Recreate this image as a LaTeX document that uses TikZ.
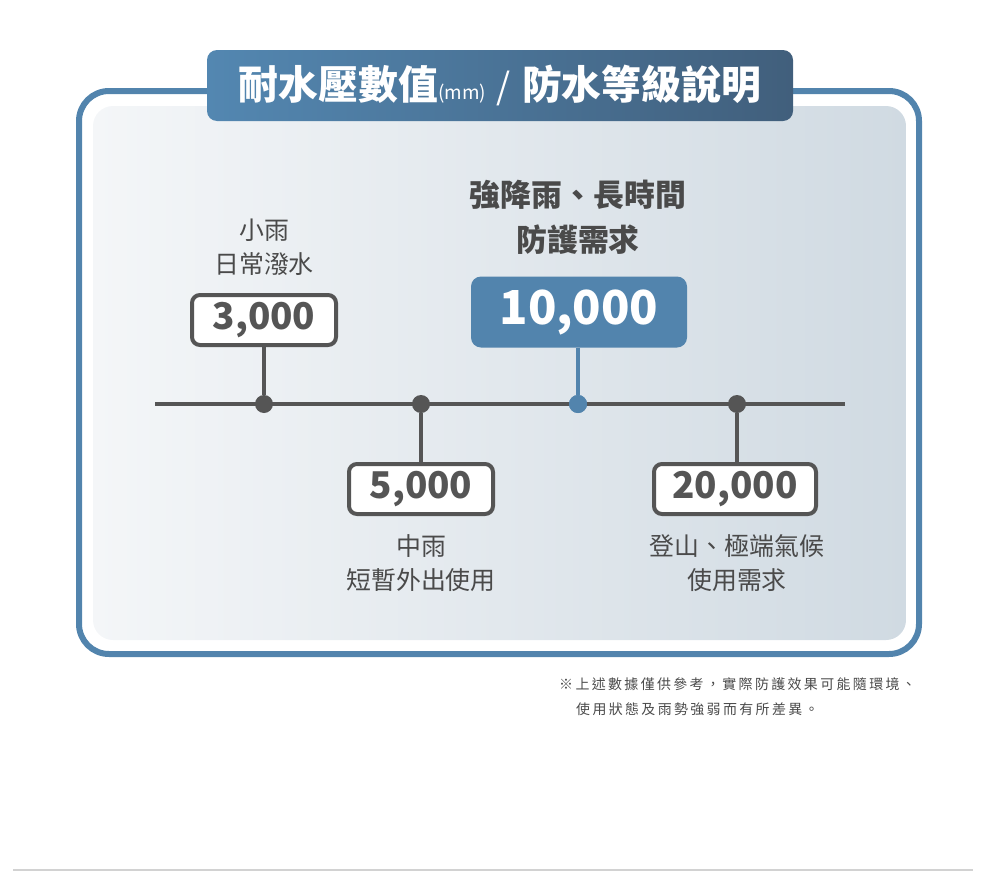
\documentclass[tikz,border=0pt]{standalone}
\usepackage{fontspec}
\setmainfont{Noto Sans CJK TC}
\definecolor{frameblue}{HTML}{5284AD}
\definecolor{bannerL}{HTML}{5387B1}
\definecolor{bannerR}{HTML}{415F7C}
\definecolor{panelL}{HTML}{F4F6F8}
\definecolor{panelR}{HTML}{D0DAE2}
\definecolor{inkgray}{HTML}{555555}
\definecolor{textgray}{HTML}{4A4A4A}
\tikzset{
  valbox/.style={draw=inkgray, line width=4bp, fill=white, rounded corners=8bp,
    minimum height=50bp, inner sep=0pt, text=inkgray,
    font=\fontsize{37}{40}\selectfont\bfseries},
  keybox/.style={fill=frameblue, rounded corners=10bp, minimum width=216bp,
    minimum height=71bp, inner sep=0pt, text=white,
    font=\fontsize{47}{50}\selectfont\bfseries},
  tdot/.style={circle, fill=inkgray, minimum size=18bp, inner sep=0pt},
  note/.style={align=center, text=textgray, font=\fontsize{25}{34}\selectfont},
}
\begin{document}
\begin{tikzpicture}[x=1bp,y=-1bp]
    \useasboundingbox (0,0) rectangle (1000,871);
    % Vẽ khung ngoài
    \draw[frameblue, line width=6bp, rounded corners=30bp] (79,91) rectangle (919,654);
    % Vẽ nền bên trong
    \shade[rounded corners=20bp, left color=panelL, right color=panelR] (93,106) rectangle (906,640);
    % Vẽ tiêu đề
    \shade[rounded corners=10bp, left color=bannerL, right color=bannerR] (207,50) rectangle (793,121);
    \node[text=white, inner sep=0pt] (title) at (500,85)
      {{\fontsize{40}{42}\selectfont\bfseries 耐水壓數值}{\fontsize{19}{20}\selectfont (mm)}\hspace{11bp}{\fontsize{36}{40}\selectfont /}\hspace{11bp}{\fontsize{40}{42}\selectfont\bfseries 防水等級說明}};

    % Vẽ trục thời gian
    \coordinate (axL) at (155,404);
    \coordinate (axR) at (845,404);
    \draw[inkgray, line width=4bp] (axL) -- (axR);
    \node[tdot] (d3) at (264,404) {};
    \node[tdot] (d5) at (421,404) {};
    \node[tdot, fill=frameblue] (d10) at (578,404) {};
    \node[tdot] (d20) at (737,404) {};

    % Đặt các hộp giá trị
    \node[valbox, minimum width=144bp] (b3) at (264,320) {3,000};
    \node[valbox, minimum width=144bp] (b5) at (421,489) {5,000};
    \node[valbox, minimum width=162bp] (b20) at (735,489) {20,000};
    \node[keybox] (b10) at (579,312) {10,000};

    % Nối hộp với trục
    \draw[inkgray, line width=4bp] (b3) -- (d3);
    \draw[inkgray, line width=4bp] (b5) -- (d5);
    \draw[inkgray, line width=4bp] (b20.north -| d20) -- (d20);
    \draw[frameblue, line width=4bp] (b10.south -| d10) -- (d10);
    \node[tdot, fill=frameblue] at (d10) {};

    % Ghi chú
    \node[note] (n3) at (264,247) {小雨\\日常潑水};
    \node[note, font=\fontsize{31}{45}\selectfont\bfseries] (n10) at (578,217) {強降雨、長時間\\防護需求};
    \node[note] (n5) at (421,563) {中雨\\短暫外出使用};
    \node[note] (n20) at (737,563) {登山、極端氣候\\使用需求};

    % Chú thích cuối
    \node[anchor=north west, align=left, text=textgray, inner sep=0pt,
      font=\fontsize{14}{26}\selectfont\addfontfeature{LetterSpace=17}] (foot) at (559,677)
      {※上述數據僅供參考，實際防護效果可能隨環境、\\\hspace*{17bp}使用狀態及雨勢強弱而有所差異。};

    % Viền dưới
    \draw[gray!35, line width=2bp] (13,870) -- (973,870);
\end{tikzpicture}
\end{document}
